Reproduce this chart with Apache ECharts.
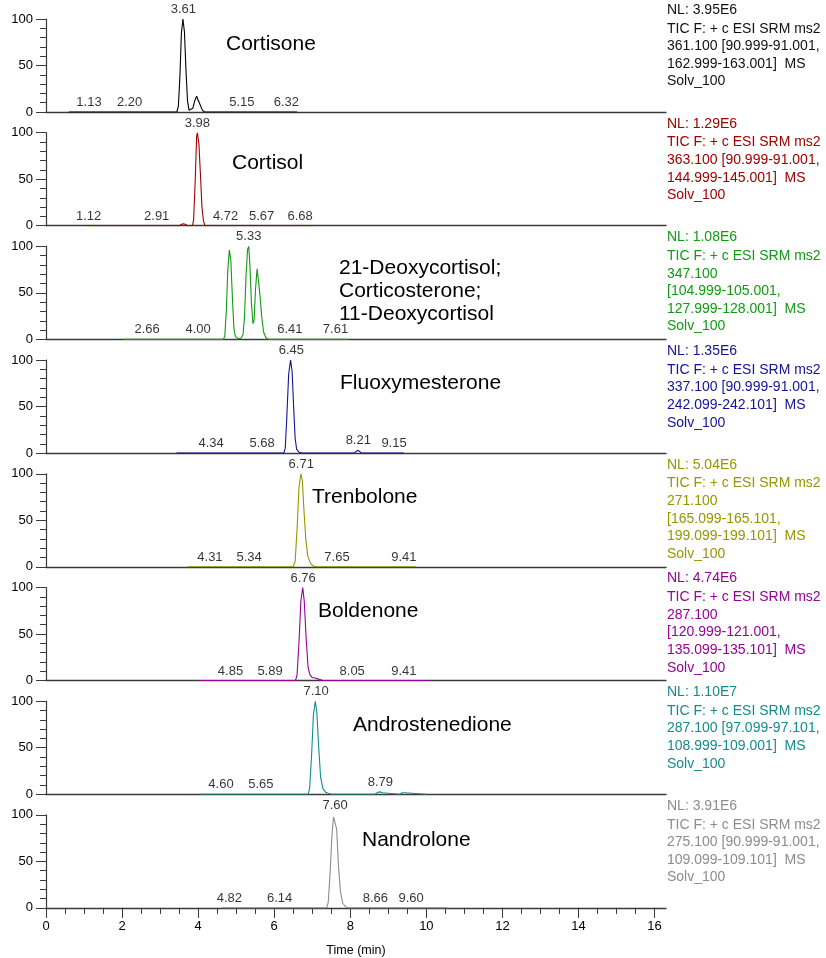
<!DOCTYPE html>
<html>
<head>
<meta charset="utf-8">
<script src="https://cdn.jsdelivr.net/npm/echarts@6/dist/echarts.min.js"></script>
<style>
  html, body { margin: 0; padding: 0; background: #fff; }
  #chart { width: 826px; height: 958px; }
</style>
</head>
<body>
<div id="chart"></div>
<script>
// Stacked SRM chromatograms, 8 steroids, shared time axis

const compounds = [
  'Cortisone', 'Cortisol', '21-Deoxycortisol;\nCorticosterone;\n11-Deoxycortisol',
  'Fluoxymesterone', 'Trenbolone', 'Boldenone', 'Androstenedione', 'Nandrolone'
]
const traceColors = ['#000000', '#a00000', '#129a12', '#12129a', '#969600', '#990099', '#128c8c', '#8c8c8c']
const nlValues = ['3.95E6', '1.29E6', '1.08E6', '1.35E6', '5.04E6', '4.74E6', '1.10E7', '3.91E6']
const scanInfo = [
  '361.100 [90.999-91.001,\n162.999-163.001]  MS',
  '363.100 [90.999-91.001,\n144.999-145.001]  MS',
  '347.100\n[104.999-105.001,\n127.999-128.001]  MS',
  '337.100 [90.999-91.001,\n242.099-242.101]  MS',
  '271.100\n[165.099-165.101,\n199.099-199.101]  MS',
  '287.100\n[120.999-121.001,\n135.099-135.101]  MS',
  '287.100 [97.099-97.101,\n108.999-109.001]  MS',
  '275.100 [90.999-91.001,\n109.099-109.101]  MS'
]

// traces: [time (min), relative abundance]
const cortisoneTrace = [[0.6,0],[3.44,0],[3.48,6],[3.52,38],[3.56,85],[3.60,100],[3.64,86],[3.68,45],[3.72,12],[3.76,2],[3.80,1],[3.86,4],[3.91,12],[3.96,17],[4.01,15],[4.06,7],[4.11,2],[4.17,0],[6.6,0]]
const cortisolTrace = [[1.05,0],[3.50,0],[3.55,1.5],[3.60,2.2],[3.66,1.5],[3.72,0],[3.85,0],[3.88,6],[3.92,45],[3.96,96],[3.98,100],[4.02,88],[4.06,55],[4.10,20],[4.14,5],[4.18,0],[7.0,0]]
const deoxyTrace = [[2.05,0],[4.66,0],[4.70,3],[4.74,30],[4.78,75],[4.82,96],[4.86,85],[4.90,45],[4.94,12],[4.98,3],[5.05,1],[5.12,1],[5.18,5],[5.22,25],[5.26,70],[5.30,97],[5.33,100],[5.36,80],[5.40,40],[5.44,17],[5.47,20],[5.51,55],[5.55,76],[5.58,75],[5.62,50],[5.67,25],[5.72,8],[5.78,2],[5.85,0],[7.95,0]]
const fluoxyTrace = [[3.43,0],[6.25,0],[6.29,5],[6.33,38],[6.38,85],[6.43,100],[6.47,88],[6.51,50],[6.55,16],[6.59,4],[6.65,1],[6.74,0],[8.10,0],[8.15,2],[8.20,3],[8.25,2],[8.30,0],[9.40,0]]
const trenTrace = [[3.72,0],[6.50,0],[6.55,6],[6.60,40],[6.65,85],[6.70,100],[6.74,92],[6.78,62],[6.83,30],[6.88,12],[6.95,4],[7.02,1],[7.10,0],[9.72,0]]
const boldTrace = [[4.03,0],[6.56,0],[6.60,6],[6.65,40],[6.70,85],[6.75,100],[6.79,85],[6.84,45],[6.89,14],[6.94,6],[7.00,3],[7.06,3],[7.12,2],[7.20,1],[7.28,0],[10.0,0]]
const androTrace = [[4.03,0],[6.89,0],[6.93,6],[6.98,40],[7.03,85],[7.08,100],[7.12,88],[7.17,50],[7.22,18],[7.28,6],[7.35,2],[7.42,1],[7.50,0],[8.65,0],[8.72,2],[8.78,2.5],[8.85,1.5],[8.90,0],[9.30,0],[9.36,1.5],[9.43,1.5],[9.48,0],[10.0,0]]
const nandTrace = [[4.62,0],[7.38,0],[7.42,6],[7.47,38],[7.52,80],[7.56,98],[7.60,100],[7.64,85],[7.69,45],[7.74,18],[7.80,5],[7.88,1],[7.96,0],[10.56,0]]
const traces = [cortisoneTrace, cortisolTrace, deoxyTrace, fluoxyTrace, trenTrace, boldTrace, androTrace, nandTrace]

// retention time labels: [time, height]
const cortisoneRT = [[1.13,0],[2.20,0],[3.61,100],[5.15,0],[6.32,0]]
const cortisolRT = [[1.12,0],[2.91,0],[3.98,100],[4.72,0],[5.67,0],[6.68,0]]
const deoxyRT = [[2.66,0],[4.00,0],[5.33,100],[6.41,0],[7.61,0]]
const fluoxyRT = [[4.34,0],[5.68,0],[6.45,100],[8.21,3],[9.15,0]]
const trenRT = [[4.31,0],[5.34,0],[6.71,100],[7.65,0],[9.41,0]]
const boldRT = [[4.85,0],[5.89,0],[6.76,100],[8.05,0],[9.41,0]]
const androRT = [[4.60,0],[5.65,0],[7.10,100],[8.79,2.5]]
const nandRT = [[4.82,0],[6.14,0],[7.60,100],[8.66,0],[9.60,0]]
const rtLabels = [cortisoneRT, cortisolRT, deoxyRT, fluoxyRT, trenRT, boldRT, androRT, nandRT]

const timeTicks = [0, 2, 4, 6, 8, 10, 12, 14, 16]
const timeMinorTicks = [0,0.5,1,1.5,2,2.5,3,3.5,4,4.5,5,5.5,6,6.5,7,7.5,8,8.5,9,9.5,10,10.5,11,11.5,12,12.5,13,13.5,14,14.5,15,15.5,16]

const FONT = '"Liberation Sans", Arial, sans-serif'
const PANEL_TOP = 19
const PANEL_H = 93
const PANEL_STEP = 113.7
const AXIS_COLOR = '#3a3a3a'

const chart = echarts.init(document.getElementById('chart'), null, { renderer: 'canvas' })

const grids = [], xAxes = [], yAxes = [], series = [], graphics = []

traces.forEach((trace, i) => {
  const top = PANEL_TOP + i * PANEL_STEP
  const last = i === traces.length - 1
  const textColor = traceColors[i] === '#000000' ? '#111' : traceColors[i]
  grids.push({ left: 46, width: 620, top: top, height: PANEL_H })

  xAxes.push({
    type: 'value', gridIndex: i, min: 0, max: 16.3, position: 'bottom',
    axisLine: { show: true, onZero: false, lineStyle: { color: AXIS_COLOR, width: 1.4 } },
    axisTick: last ? { show: true, customValues: timeTicks, length: 10, lineStyle: { color: AXIS_COLOR } } : { show: false },
    axisLabel: last ? { show: true, customValues: timeTicks, margin: 12, fontSize: 13, color: '#000', fontFamily: FONT } : { show: false },
    splitLine: { show: false },
    name: last ? 'Time (min)' : '',
    nameLocation: 'middle', nameGap: 36,
    nameTextStyle: { fontSize: 12.5, color: '#000', fontFamily: FONT }
  })

  yAxes.push({
    type: 'value', gridIndex: i, min: 0, max: 100, interval: 50,
    axisLine: { show: true, lineStyle: { color: AXIS_COLOR, width: 1.2 } },
    axisTick: { show: true, length: 10, lineStyle: { color: AXIS_COLOR } },
    minorTick: { show: true, splitNumber: 5, length: 6, lineStyle: { color: AXIS_COLOR } },
    axisLabel: { margin: 13, fontSize: 13, color: '#000', fontFamily: FONT },
    splitLine: { show: false }
  })

  series.push({
    type: 'line', xAxisIndex: i, yAxisIndex: i, data: trace,
    showSymbol: false, smooth: false, z: 3,
    lineStyle: { color: traceColors[i], width: 1.1 }
  })

  series.push({
    type: 'scatter', xAxisIndex: i, yAxisIndex: i, data: rtLabels[i],
    symbolSize: 0, clip: false, silent: true, z: 4,
    label: {
      show: true, position: 'top', distance: 3,
      formatter: p => p.value[0].toFixed(2),
      fontSize: 13, color: '#000', fontFamily: FONT
    }
  })

  // right-hand scan description
  graphics.push({
    type: 'text', left: 667, top: top - 16,
    style: { text: 'NL: ' + nlValues[i], fontSize: 14, fill: textColor, fontFamily: FONT }
  })
  graphics.push({
    type: 'text', left: 667, top: top + 1,
    style: {
      text: 'TIC F: + c ESI SRM ms2\n' + scanInfo[i] + '\nSolv_100',
      fontSize: 14, lineHeight: 17.6, fill: textColor, fontFamily: FONT
    }
  })
})

// compound names inside the panels
const namePos = [[226, 44], [232, 163], [339, 291], [340, 383], [312, 497], [318, 611], [353, 725], [362, 840]]
compounds.forEach((name, i) => {
  graphics.push({
    type: 'text', x: namePos[i][0], y: namePos[i][1],
    style: { text: name, fontSize: 21, lineHeight: 23, fill: '#000', fontFamily: FONT, verticalAlign: 'middle', align: 'left' }
  })
})

// minor ticks on the bottom time axis (every 0.5 min)
xAxes.push({
  type: 'value', gridIndex: 7, min: 0, max: 16.3, position: 'bottom',
  axisLine: { show: false, onZero: false },
  axisTick: { show: true, customValues: timeMinorTicks, length: 6, lineStyle: { color: AXIS_COLOR } },
  axisLabel: { show: false },
  splitLine: { show: false }
})

chart.setOption({
  animation: false,
  backgroundColor: '#fff',
  grid: grids,
  xAxis: xAxes,
  yAxis: yAxes,
  series: series,
  graphic: graphics
})
</script>
</body>
</html>
